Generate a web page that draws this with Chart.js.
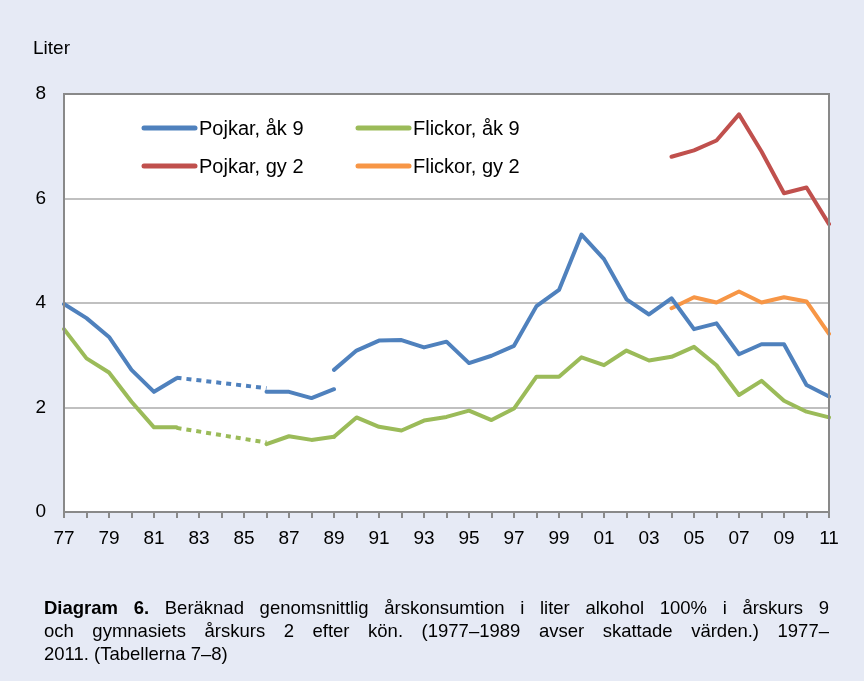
<!DOCTYPE html>
<html>
<head>
<meta charset="utf-8">
<script src="https://cdn.jsdelivr.net/npm/chart.js@4.4.1/dist/chart.umd.min.js"></script>
<style>
    body { margin: 0; background: #e6eaf5; }
    #wrap { position: relative; width: 864px; height: 681px; overflow: hidden; }
    #unit { position: absolute; left: 33px; top: 37px; font: 19px "Liberation Sans", Arial, sans-serif; color: #000; }
    #caption { position: absolute; left: 44px; top: 596px; width: 785px; font: 18.5px "Liberation Sans", Arial, sans-serif; line-height: 23px; color: #000; }
    #caption div { text-align: justify; text-align-last: justify; white-space: nowrap; }
    #caption div.last { text-align-last: left; }
</style>
</head>
<body>
<div id="wrap">
    <canvas id="chart" width="864" height="681"></canvas>
    <div id="unit">Liter</div>
    <div id="caption">
        <div><b>Diagram 6.</b> Beräknad genomsnittlig årskonsumtion i liter alkohol 100% i årskurs 9</div>
        <div>och gymnasiets årskurs 2 efter kön. (1977–1989 avser skattade värden.) 1977–</div>
        <div class="last">2011. (Tabellerna 7–8)</div>
    </div>
</div>
<script>
// år 1977-2011
const years = [1977, 1978, 1979, 1980, 1981, 1982, 1983, 1984, 1985, 1986, 1987, 1988, 1989,
    1990, 1991, 1992, 1993, 1994, 1995, 1996, 1997, 1998, 1999, 2000, 2001, 2002, 2003,
    2004, 2005, 2006, 2007, 2008, 2009, 2010, 2011];

// skattade värden 1977-1989
const pojkarAk9Est = [3.98, 3.71, 3.35, 2.72, 2.30, 2.56, null, null, null, 2.30, 2.30, 2.18, 2.35,
    null, null, null, null, null, null, null, null, null, null, null, null, null, null,
    null, null, null, null, null, null, null, null];
const flickorAk9Est = [3.50, 2.94, 2.67, 2.11, 1.62, 1.62, null, null, null, 1.30, 1.45, 1.38, 1.44,
    null, null, null, null, null, null, null, null, null, null, null, null, null, null,
    null, null, null, null, null, null, null, null];
// prickade avsnitt 1982-1986
const pojkarAk9Dot = [null, null, null, null, null, 2.57, null, null, null, 2.37, null, null, null,
    null, null, null, null, null, null, null, null, null, null, null, null, null, null,
    null, null, null, null, null, null, null, null];
const flickorAk9Dot = [null, null, null, null, null, 1.61, null, null, null, 1.33, null, null, null,
    null, null, null, null, null, null, null, null, null, null, null, null, null, null,
    null, null, null, null, null, null, null, null];

// mätta värden 1989-2011
const pojkarAk9 = [null, null, null, null, null, null, null, null, null, null, null, null, 2.72,
    3.09, 3.28, 3.29, 3.15, 3.26, 2.85, 2.99, 3.18, 3.94, 4.25, 5.31, 4.84, 4.07, 3.78,
    4.09, 3.50, 3.61, 3.02, 3.21, 3.21, 2.43, 2.21];
const flickorAk9 = [null, null, null, null, null, null, null, null, null, null, null, null, 1.44,
    1.81, 1.63, 1.56, 1.75, 1.82, 1.94, 1.76, 1.98, 2.59, 2.59, 2.96, 2.81, 3.09, 2.90,
    2.97, 3.16, 2.81, 2.24, 2.51, 2.13, 1.92, 1.81];
const pojkarGy2 = [null, null, null, null, null, null, null, null, null, null, null, null, null,
    null, null, null, null, null, null, null, null, null, null, null, null, null, null,
    6.80, 6.92, 7.11, 7.61, 6.90, 6.10, 6.21, 5.51];
const flickorGy2 = [null, null, null, null, null, null, null, null, null, null, null, null, null,
    null, null, null, null, null, null, null, null, null, null, null, null, null, null,
    3.90, 4.11, 4.01, 4.22, 4.01, 4.11, 4.03, 3.41];

const yTicks = [0, 2, 4, 6, 8];

const BLUE = "#4f81bd", GREEN = "#9bbb59", RED = "#c0504d", ORANGE = "#f79646";
const FONT = '"Liberation Sans", Arial, sans-serif';

function line(label, data, color, opts) {
    return Object.assign({
        label: label,
        data: data,
        borderColor: color,
        backgroundColor: color,
        borderWidth: 4,
        pointRadius: 0,
        pointHoverRadius: 0,
        tension: 0,
        fill: false,
        borderCapStyle: "round",
        borderJoinStyle: "round",
        inLegend: false
    }, opts || {});
}

const datasets = [
    line("Pojkar, åk 9", pojkarAk9Est, BLUE),
    line("Pojkar, åk 9", pojkarAk9Dot, BLUE, { spanGaps: true, borderDash: [5, 5], borderCapStyle: "butt" }),
    line("Pojkar, åk 9", pojkarAk9, BLUE, { inLegend: true }),
    line("Flickor, åk 9", flickorAk9Est, GREEN),
    line("Flickor, åk 9", flickorAk9Dot, GREEN, { spanGaps: true, borderDash: [5, 5], borderCapStyle: "butt" }),
    line("Flickor, åk 9", flickorAk9, GREEN, { inLegend: true }),
    line("Pojkar, gy 2", pojkarGy2, RED, { inLegend: true }),
    line("Flickor, gy 2", flickorGy2, ORANGE, { inLegend: true })
];

// ram runt diagramytan
const frame = {
    id: "frame",
    beforeDraw(chart) {
        const a = chart.chartArea, c = chart.ctx;
        c.save();
        c.fillStyle = "#ffffff";
        c.fillRect(a.left, a.top, a.right - a.left, a.bottom - a.top);
        c.restore();
    },
    afterDatasetsDraw(chart) {
        const a = chart.chartArea, c = chart.ctx;
        c.save();
        c.strokeStyle = "#898989";
        c.lineWidth = 2;
        c.strokeRect(a.left, a.top, a.right - a.left, a.bottom - a.top);
        c.restore();
    }
};

// förklaring inne i diagrammet, två kolumner
const insideLegend = {
    id: "insideLegend",
    afterDraw(chart) {
        const c = chart.ctx;
        const items = chart.data.datasets.filter(d => d.inLegend);
        const cols = [142, 356], rows = [128, 166];
        c.save();
        c.font = "20px " + FONT;
        c.textBaseline = "middle";
        c.fillStyle = "#000";
        c.lineCap = "round";
        c.lineWidth = 5;
        items.forEach((d, i) => {
            const x = cols[i % 2], y = rows[Math.floor(i / 2)];
            c.strokeStyle = d.borderColor;
            c.beginPath();
            c.moveTo(x + 2, y);
            c.lineTo(x + 53, y);
            c.stroke();
            c.fillText(d.label, x + 57, y + 1);
        });
        c.restore();
    }
};

new Chart(document.getElementById("chart"), {
    type: "line",
    data: { labels: years, datasets: datasets },
    plugins: [frame, insideLegend],
    options: {
        responsive: false,
        animation: false,
        layout: { padding: { left: 0, top: 94, right: 35, bottom: 0 } },
        plugins: {
            legend: { display: false },
            tooltip: { enabled: false }
        },
        scales: {
            x: {
                offset: false,
                afterFit(scale) { scale.height = 169; },
                border: { display: false },
                grid: {
                    drawOnChartArea: false,
                    drawTicks: true,
                    tickLength: 6,
                    tickColor: "#898989",
                    lineWidth: 2
                },
                ticks: {
                    autoSkip: false,
                    maxRotation: 0,
                    padding: 9,
                    color: "#000",
                    font: { family: FONT, size: 19 },
                    callback: function (v, i) {
                        return i % 2 === 0 ? String(years[i]).slice(2) : "";
                    }
                }
            },
            y: {
                min: 0,
                max: 8,
                afterFit(scale) { scale.width = 64; },
                afterBuildTicks(scale) { scale.ticks = yTicks.map(v => ({ value: v })); },
                border: { display: false },
                grid: {
                    color: "#c0c0c0",
                    lineWidth: 2,
                    drawTicks: false
                },
                ticks: {
                    padding: 18,
                    color: "#000",
                    font: { family: FONT, size: 19 }
                }
            }
        }
    }
});
</script>
</body>
</html>
